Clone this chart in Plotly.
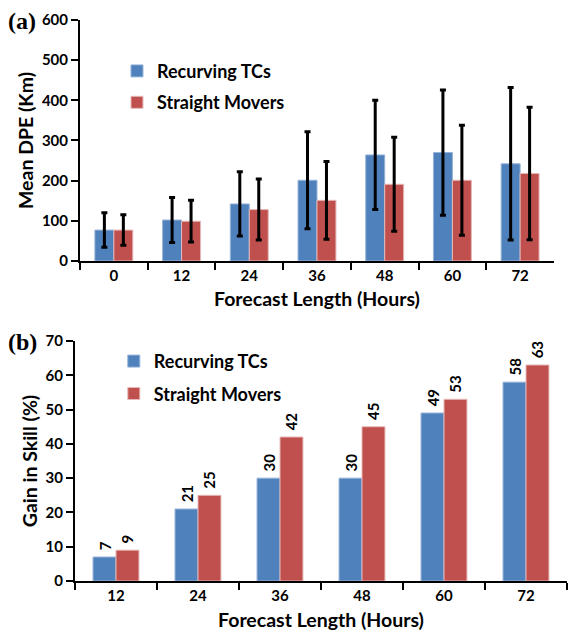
import plotly.graph_objects as go

# Panel (a): mean DPE with standard deviation
hours_a = ["0", "12", "24", "36", "48", "60", "72"]
dpe_recurving = [77, 102, 142, 201, 264, 270, 242]
dpe_straight = [77, 99, 128, 151, 191, 201, 218]
sd_recurving = [43, 56, 80, 121, 136, 156, 190]
sd_straight = [38, 52, 76, 97, 117, 137, 165]

# Panel (b): gain in skill
hours_b = ["12", "24", "36", "48", "60", "72"]
gain_recurving = [7, 21, 30, 30, 49, 58]
gain_straight = [9, 25, 42, 45, 53, 63]

BLUE = "#4F81BD"
RED = "#C0504D"
FONT = "Lato"

fig = go.Figure()

err_style = dict(type="data", visible=True, color="black", thickness=3, width=3)

fig.add_trace(go.Bar(
    x=hours_a, y=dpe_recurving, name="Recurving TCs",
    marker=dict(color=BLUE, line=dict(color="#95B3D7", width=1)),
    error_y=dict(array=sd_recurving, **err_style),
    xaxis="x", yaxis="y", legend="legend", legendgroup="a1",
))
fig.add_trace(go.Bar(
    x=hours_a, y=dpe_straight, name="Straight Movers",
    marker=dict(color=RED, line=dict(color="#E6B9B8", width=1)),
    error_y=dict(array=sd_straight, **err_style),
    xaxis="x", yaxis="y", legend="legend", legendgroup="a2",
))

# value labels sit a little above each bar, reading upwards
label_font = dict(family=FONT, size=15, color="black", weight="bold")
label_template = "\u00a0%{y}"
fig.add_trace(go.Bar(
    x=hours_b, y=gain_recurving, name="Recurving TCs",
    marker=dict(color=BLUE, line=dict(color="#95B3D7", width=1)),
    texttemplate=label_template, textposition="outside",
    textangle=-90, textfont=label_font, cliponaxis=False,
    xaxis="x2", yaxis="y2", legend="legend2", legendgroup="b1",
))
fig.add_trace(go.Bar(
    x=hours_b, y=gain_straight, name="Straight Movers",
    marker=dict(color=RED, line=dict(color="#E6B9B8", width=1)),
    texttemplate=label_template, textposition="outside",
    textangle=-90, textfont=label_font, cliponaxis=False,
    xaxis="x2", yaxis="y2", legend="legend2", legendgroup="b2",
))

tick_font = dict(family=FONT, size=15, color="black", weight="bold")
title_font = dict(family=FONT, size=19.5, color="black", weight="bold")
axis_common = dict(
    showline=True, linecolor="black", linewidth=2, showgrid=False,
    ticks="outside", tickcolor="black", tickwidth=2, ticklen=7,
    tickfont=tick_font, zeroline=False, automargin=False,
)
legend_font = dict(family=FONT, size=18, color="black", weight="bold")

fig.update_layout(
    width=569, height=635,
    margin=dict(l=0, r=0, t=0, b=0),
    paper_bgcolor="white", plot_bgcolor="white",
    barmode="group", bargap=0.44, bargroupgap=0,
    font=dict(family=FONT, color="black"),
    xaxis=dict(domain=[0.1406, 0.9736], anchor="y", type="category",
               tickson="boundaries",
               title=dict(text="Forecast Length (Hours)", font=title_font, standoff=9),
               **axis_common),
    yaxis=dict(domain=[0.589, 0.9685], anchor="x", range=[0, 600], dtick=100,
               title=dict(text="Mean DPE (Km)", font=title_font, standoff=3),
               **axis_common),
    xaxis2=dict(domain=[0.1318, 0.9965], anchor="y2", type="category",
                tickson="boundaries",
                title=dict(text="Forecast Length (Hours)", font=title_font, standoff=10),
                **axis_common),
    yaxis2=dict(domain=[0.085, 0.463], anchor="x2", range=[0, 70], dtick=10,
                title=dict(text="Gain in Skill (%)", font=title_font, standoff=3),
                **axis_common),
    legend=dict(x=0.2056, y=0.917, xanchor="left", yanchor="top",
                bgcolor="rgba(0,0,0,0)", traceorder="grouped", tracegroupgap=5,
                font=legend_font, itemwidth=30),
    legend2=dict(x=0.200, y=0.4600, xanchor="left", yanchor="top",
                 bgcolor="rgba(0,0,0,0)", traceorder="grouped", tracegroupgap=6,
                 font=legend_font, itemwidth=30),
    annotations=[
        dict(text="<b>(a)</b>", x=0.010, y=0.967, xref="paper", yref="paper",
             xanchor="left", yanchor="middle", showarrow=False,
             font=dict(family="Liberation Serif", size=24, color="black")),
        dict(text="<b>(b)</b>", x=0.010, y=0.4614, xref="paper", yref="paper",
             xanchor="left", yanchor="middle", showarrow=False,
             font=dict(family="Liberation Serif", size=24, color="black")),
    ],
)

fig.write_html("out.html")
